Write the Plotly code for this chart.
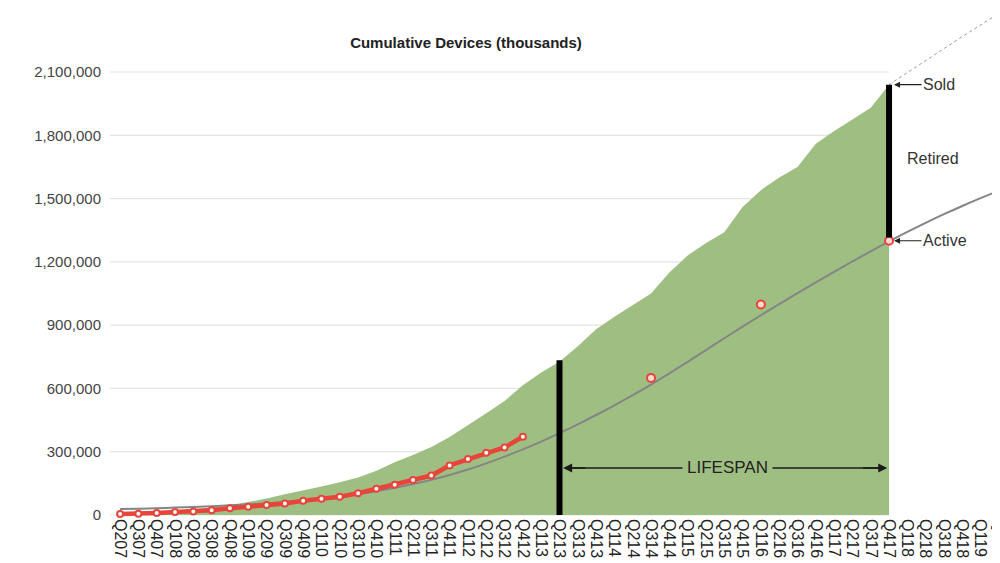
import plotly.graph_objects as go

# ---------------- data ----------------
quarters = ["Q207", "Q307", "Q407",
            "Q108", "Q208", "Q308", "Q408",
            "Q109", "Q209", "Q309", "Q409",
            "Q110", "Q210", "Q310", "Q410",
            "Q111", "Q211", "Q311", "Q411",
            "Q112", "Q212", "Q312", "Q412",
            "Q113", "Q213", "Q313", "Q413",
            "Q114", "Q214", "Q314", "Q414",
            "Q115", "Q215", "Q315", "Q415",
            "Q116", "Q216", "Q316", "Q416",
            "Q117", "Q217", "Q317", "Q417",
            "Q118", "Q218", "Q318", "Q418",
            "Q119", "Q219"]

# cumulative devices sold (thousands), Q207..Q417
sold = [5000, 8000, 13000, 20000, 27000, 35000, 45000, 60000, 78000, 98000,
        115000, 135000, 155000, 178000, 210000, 250000, 285000, 322000, 370000, 425000,
        482000, 540000, 615000, 675000, 726000, 800000, 880000, 940000, 995000, 1050000,
        1150000, 1230000, 1290000, 1340000, 1460000, 1540000, 1600000, 1650000, 1760000, 1820000,
        1875000, 1930000, 2040000]

# projected sold beyond Q417 (dotted), Q417..Q219
sold_proj_q = ["Q417", "Q118", "Q218", "Q318", "Q418", "Q119", "Q219"]
sold_proj = [2040000, 2098000, 2155000, 2212000, 2268000, 2323000, 2378000]

# reported active devices, Q207..Q412
active_hist = [5000, 6000, 10000, 14000, 17000, 22000, 32000, 39000, 47000, 55000,
               68000, 77000, 87000, 103000, 125000, 143000, 166000, 187000, 235000, 265000,
               295000, 320000, 371000]

# later active device data points
active_pts_q = ["Q314", "Q116", "Q417"]
active_pts = [650000, 998000, 1300000]

# fitted active-device curve, Q207..Q219
fit = [28000, 30000, 32000, 35000, 38000, 42000, 46000, 51000, 56000, 62000,
       69000, 77000, 87000, 99000, 113000, 129000, 147000, 167000, 190000, 216000,
       245000, 277000, 311000, 348000, 388000, 430000, 474000, 520000, 568000, 618000,
       671000, 726000, 782000, 838000, 893000, 947000, 1000000, 1052000, 1103000, 1153000,
       1202000, 1250000, 1297000, 1342000, 1385000, 1426000, 1465000, 1502000, 1537000]

y_ticks = [0, 300000, 600000, 900000, 1200000, 1500000, 1800000, 2100000]

lifespan_start = "Q213"
lifespan_end = "Q417"
lifespan_y = 223000
retired_label_y = 1690000

# ---------------- styling ----------------
GREEN = "#9fbf82"
RED = "#e8443a"
GREY = "#858585"
FONT = "Liberation Sans, Arial, sans-serif"

i_start = quarters.index(lifespan_start)
i_end = quarters.index(lifespan_end)

fig = go.Figure()

# sold area
fig.add_trace(go.Scatter(
    x=quarters[:len(sold)], y=sold, mode="lines", fill="tozeroy",
    fillcolor=GREEN, line=dict(width=0, color=GREEN), hoverinfo="skip"))

# dotted sold projection
fig.add_trace(go.Scatter(
    x=sold_proj_q, y=sold_proj, mode="lines",
    line=dict(color="#9a9a9a", width=1, dash="dot"), hoverinfo="skip"))

# fitted curve
fig.add_trace(go.Scatter(
    x=quarters, y=fit, mode="lines",
    line=dict(color=GREY, width=2, shape="spline"), hoverinfo="skip"))

# historical active line
fig.add_trace(go.Scatter(
    x=quarters[:len(active_hist)], y=active_hist, mode="lines+markers",
    line=dict(color=RED, width=4.5),
    marker=dict(size=6, color="white", line=dict(color=RED, width=2)),
    hoverinfo="skip"))

# later active points
fig.add_trace(go.Scatter(
    x=active_pts_q, y=active_pts, mode="markers",
    marker=dict(size=8, color="#ffd8d5", line=dict(color=RED, width=2)),
    hoverinfo="skip"))

# black bars: lifespan start and retired span
fig.add_trace(go.Scatter(
    x=[lifespan_start, lifespan_start], y=[0, sold[i_start] + 8000], mode="lines",
    line=dict(color="black", width=6), hoverinfo="skip"))
fig.add_trace(go.Scatter(
    x=[lifespan_end, lifespan_end], y=[active_pts[-1] + 15000, sold[i_end]], mode="lines",
    line=dict(color="black", width=6), hoverinfo="skip"))

# gridlines stopping at Q417
shapes = []
for v in y_ticks:
    shapes.append(dict(type="line", xref="x", yref="y", x0=-0.55, x1=i_end,
                       y0=v, y1=v, line=dict(color="#e4e4e4", width=1.2), layer="below"))

# lifespan line
shapes.append(dict(type="line", xref="x", yref="y", x0=i_start + 0.3, x1=i_end - 0.3,
                   y0=lifespan_y, y1=lifespan_y, line=dict(color="#1a1a1a", width=1.5)))

annotations = [
    # arrowheads for lifespan
    dict(x=i_start + 0.2, y=lifespan_y, ax=i_start + 1.5, ay=lifespan_y, axref="x", ayref="y",
         xref="x", yref="y", text="", showarrow=True, arrowhead=2, arrowsize=1.2,
         arrowwidth=1.5, arrowcolor="#1a1a1a"),
    dict(x=i_end - 0.1, y=lifespan_y, ax=i_end - 1.5, ay=lifespan_y, axref="x", ayref="y",
         xref="x", yref="y", text="", showarrow=True, arrowhead=2, arrowsize=1.2,
         arrowwidth=1.5, arrowcolor="#1a1a1a"),
    dict(x=(i_start + i_end) / 2 + 0.2, y=lifespan_y, xref="x", yref="y", text="LIFESPAN",
         showarrow=False, bgcolor=GREEN, borderpad=4,
         font=dict(family=FONT, size=17, color="#222")),
    dict(x=i_end, y=sold[i_end], xref="x", yref="y", text="Sold", showarrow=True,
         ax=50, ay=0, arrowhead=2, arrowsize=1, arrowwidth=1.2, arrowcolor="#222",
         standoff=5, font=dict(family=FONT, size=16, color="#333")),
    dict(x=i_end, y=retired_label_y, xref="x", yref="y", text="Retired", showarrow=False,
         xshift=44, font=dict(family=FONT, size=16, color="#333")),
    dict(x=i_end, y=active_pts[-1], xref="x", yref="y", text="Active", showarrow=True,
         ax=56, ay=0, arrowhead=2, arrowsize=1, arrowwidth=1.2, arrowcolor="#222",
         standoff=5, font=dict(family=FONT, size=16, color="#333")),
]

# page has an 8px body margin: figure occupies page x 8..1000, y 8..563
fig.update_layout(
    width=992, height=555,
    margin=dict(l=102, r=0, t=0, b=45),
    paper_bgcolor="white", plot_bgcolor="white",
    showlegend=False,
    title=dict(text="<b>Cumulative Devices (thousands)</b>", x=458 / 992, xref="container",
               xanchor="center", y=1 - 35 / 555, yref="container", yanchor="middle",
               font=dict(family=FONT, size=15, color="#222")),
    font=dict(family=FONT),
    shapes=shapes, annotations=annotations,
)

fig.update_xaxes(type="category", categoryorder="array", categoryarray=quarters,
                 tickmode="array", tickvals=quarters, ticktext=quarters,
                 range=[-0.55, 48.06], tickangle=90, showgrid=False, zeroline=False,
                 showline=False, ticks="", automargin=False,
                 tickfont=dict(family=FONT, size=16, color="#222"))
fig.update_yaxes(range=[-14200, 2403400], tickvals=y_ticks, tickformat=",d",
                 showgrid=False, zeroline=False, showline=False, ticks="", automargin=False,
                 ticklabelstandoff=8, tickfont=dict(family=FONT, size=15, color="#444"))

fig.write_html("out.html")
